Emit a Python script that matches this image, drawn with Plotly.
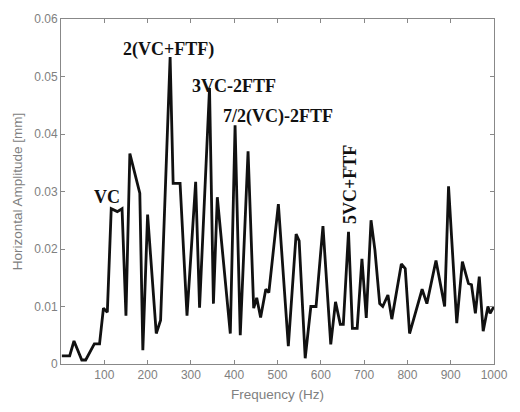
import plotly.graph_objects as go

# Frequency spectrum: horizontal vibration amplitude
freq_hz = [2, 20, 30, 48, 57, 77, 89, 98, 107, 116, 130, 141, 150, 159, 182, 189,
           200, 220, 230, 252, 259, 275, 291, 311, 320, 343, 352, 361, 391, 402,
           414, 432, 445, 452, 461, 473, 480, 502, 525, 543, 550, 564, 577, 589,
           605, 623, 634, 645, 652, 664, 673, 684, 695, 705, 716, 725, 736, 743,
           755, 764, 786, 795, 805, 834, 845, 866, 886, 895, 914, 927, 941, 948,
           957, 966, 975, 986, 991, 1000]
amplitude_mm = [0.0014, 0.0014, 0.0040, 0.0007, 0.0007, 0.0035, 0.0035, 0.0097,
                0.0090, 0.0270, 0.0265, 0.0270, 0.0084, 0.0366, 0.0297, 0.0024,
                0.0260, 0.0053, 0.0076, 0.0534, 0.0314, 0.0314, 0.0084, 0.0317,
                0.0098, 0.0480, 0.0105, 0.0290, 0.0053, 0.0415, 0.0050, 0.0370,
                0.0097, 0.0115, 0.0081, 0.0130, 0.0124, 0.0278, 0.0031, 0.0226,
                0.0214, 0.0010, 0.0100, 0.0100, 0.0240, 0.0034, 0.0108, 0.0069,
                0.0069, 0.0230, 0.0062, 0.0062, 0.0183, 0.0080, 0.0250, 0.0198,
                0.0105, 0.0100, 0.0120, 0.0078, 0.0174, 0.0166, 0.0053, 0.0130,
                0.0105, 0.0180, 0.0100, 0.0309, 0.0071, 0.0178, 0.0140, 0.0138,
                0.0088, 0.0152, 0.0057, 0.0100, 0.0088, 0.0100]

x_ticks = [100, 200, 300, 400, 500, 600, 700, 800, 900, 1000]
y_ticks = [0, 0.01, 0.02, 0.03, 0.04, 0.05, 0.06]
y_tick_labels = ["0", "0.01", "0.02", "0.03", "0.04", "0.05", "0.06"]

# Peak labels: (text, frequency, amplitude, rotation)
peak_labels = [
    ("VC", 107, 0.0291, 0),
    ("2(VC+FTF)", 248, 0.0547, 0),
    ("3VC-2FTF", 400, 0.0484, 0),
    ("7/2(VC)-2FTF", 502, 0.0431, 0),
    ("5VC+FTF", 666, 0.0312, -90),
]

fig = go.Figure()
fig.add_trace(go.Scatter(
    x=freq_hz, y=amplitude_mm, mode="lines",
    line=dict(color="#111111", width=2.8),
    hoverinfo="skip", showlegend=False,
))

for text, fx, fy, ang in peak_labels:
    fig.add_annotation(
        x=fx, y=fy, text=f"<b>{text}</b>", showarrow=False, textangle=ang,
        font=dict(family="Liberation Serif, Times New Roman, serif", size=18, color="#111111"),
        xanchor="center", yanchor="middle",
    )

tick_font = dict(family="Liberation Sans, Arial, sans-serif", size=12, color="#808080")
title_font = dict(family="Liberation Sans, Arial, sans-serif", size=13.5, color="#808080")

fig.update_xaxes(
    range=[0, 1000], tickvals=x_ticks, ticks="inside", ticklen=4, tickcolor="#888888",
    showline=True, linecolor="#888888", linewidth=1, mirror="ticks", showgrid=False,
    zeroline=False, tickfont=tick_font,
    title=dict(text="Frequency (Hz)", font=title_font, standoff=8),
)
fig.update_yaxes(
    range=[0, 0.06], tickvals=y_ticks, ticktext=y_tick_labels, ticks="inside", ticklen=4,
    tickcolor="#888888", showline=True, linecolor="#888888", linewidth=1, mirror="ticks",
    showgrid=False, zeroline=False, tickfont=tick_font,
    title=dict(text="Horizontal Amplitude [mm]", font=title_font, standoff=8),
)

fig.update_layout(
    width=520, height=412,
    margin=dict(l=61, r=16, t=16, b=48),
    paper_bgcolor="white", plot_bgcolor="white",
)

fig.write_html("out.html")
